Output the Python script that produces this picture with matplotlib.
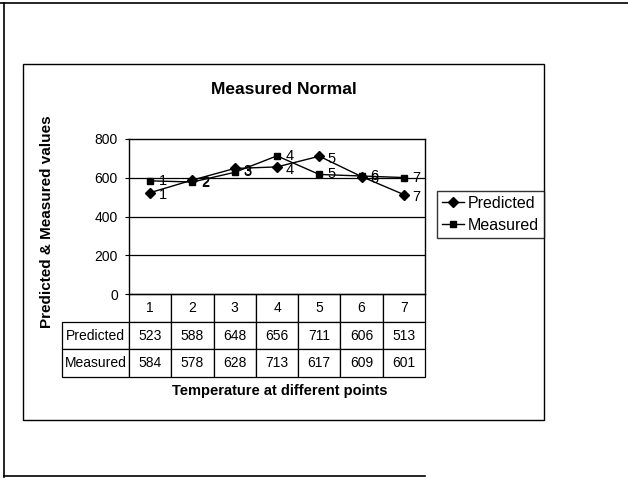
import matplotlib
matplotlib.use("Agg")
import matplotlib.pyplot as plt
from matplotlib.patches import Rectangle
from matplotlib.lines import Line2D

plt.rcParams['font.family'] = ['Liberation Sans', 'DejaVu Sans']

categories = [1, 2, 3, 4, 5, 6, 7]
predicted = [523, 588, 648, 656, 711, 606, 513]
measured = [584, 578, 628, 713, 617, 609, 601]
series_names = ["Predicted", "Measured"]
yticks = [0, 200, 400, 600, 800]
title = "Measured Normal"
xlabel = "Temperature at different points"
ylabel = "Predicted & Measured values"

W, H = 628, 478
fig = plt.figure(figsize=(W / 100, H / 100), dpi=100)
fig.patch.set_facecolor("white")

def fx(px):
    return px / W

def fy(py):
    return 1 - py / H

# outer page frame lines
fig.add_artist(Line2D([0, 1], [fy(3), fy(3)], transform=fig.transFigure, color="black", lw=1.2))
fig.add_artist(Line2D([fx(4), fx(4)], [fy(3), fy(477)], transform=fig.transFigure, color="black", lw=1.2))
fig.add_artist(Line2D([fx(4), fx(425)], [fy(476), fy(476)], transform=fig.transFigure, color="black", lw=1.2))

# chart area box
fig.add_artist(Rectangle((fx(23), fy(420)), fx(544) - fx(23), fy(64) - fy(420),
                         transform=fig.transFigure, fill=False, edgecolor="black", lw=1))

ax = fig.add_axes([fx(129), fy(294), fx(425) - fx(129), fy(139) - fy(294)])
ax.plot(categories, predicted, color="black", lw=1, marker="D", markersize=5.2, label=series_names[0])
ax.plot(categories, measured, color="black", lw=1, marker="s", markersize=5, label=series_names[1])

for c, v in zip(categories, predicted):
    ax.annotate(str(c), (c, v), xytext=(6, -2), textcoords="offset points",
                ha="left", va="center", fontsize=10.5)
for c, v in zip(categories, measured):
    ax.annotate(str(c), (c, v), xytext=(6, 0), textcoords="offset points",
                ha="left", va="center", fontsize=10.5)

ax.set_xlim(0.5, 7.5)
ax.set_ylim(0, 800)
ax.set_yticks(yticks)
ax.set_yticklabels([str(t) for t in yticks], fontsize=10)
ax.tick_params(axis="y", direction="out", length=3, pad=5, width=0.8)
ax.set_xticks([])
for y in yticks[1:-1]:
    ax.axhline(y, color="black", lw=0.9, zorder=0)
for s in ax.spines.values():
    s.set_color("black")
    s.set_linewidth(1)

# data table
cell_text = [[""] + [str(c) for c in categories],
             [series_names[0]] + [str(v) for v in predicted],
             [series_names[1]] + [str(v) for v in measured]]
x0 = (62 - 129) / 296
x1 = 1.0
y0 = (294 - 377) / 155
tbl = ax.table(cellText=cell_text, cellLoc="center",
               colWidths=[67] + [296 / 7] * 7,
               bbox=[x0, y0, x1 - x0, -y0])
tbl.auto_set_font_size(False)
tbl.set_fontsize(10)
for (r, c), cell in tbl.get_celld().items():
    cell.set_edgecolor("black")
    cell.set_linewidth(0.9)
    cell.PAD = 0.02
    if r == 0 and c == 0:
        cell.visible_edges = ""

fig.text(fx(284), fy(89), title, ha="center", va="center", fontsize=12.5, fontweight="bold")
fig.text(fx(280), fy(391), xlabel, ha="center", va="center", fontsize=10.5, fontweight="bold")
fig.text(fx(47), fy(222), ylabel, ha="center", va="center", rotation=90, fontsize=11, fontweight="bold")

leg = fig.legend(loc="upper left", bbox_to_anchor=(fx(437), fy(191)), borderaxespad=0,
                 fontsize=11.5, frameon=True, fancybox=False, edgecolor="black",
                 handlelength=1.4, handletextpad=0.25, borderpad=0.3, labelspacing=0.45,
                 markerscale=0.9)
leg.get_frame().set_linewidth(1)

fig.savefig("out.png", dpi=100, facecolor="white")
